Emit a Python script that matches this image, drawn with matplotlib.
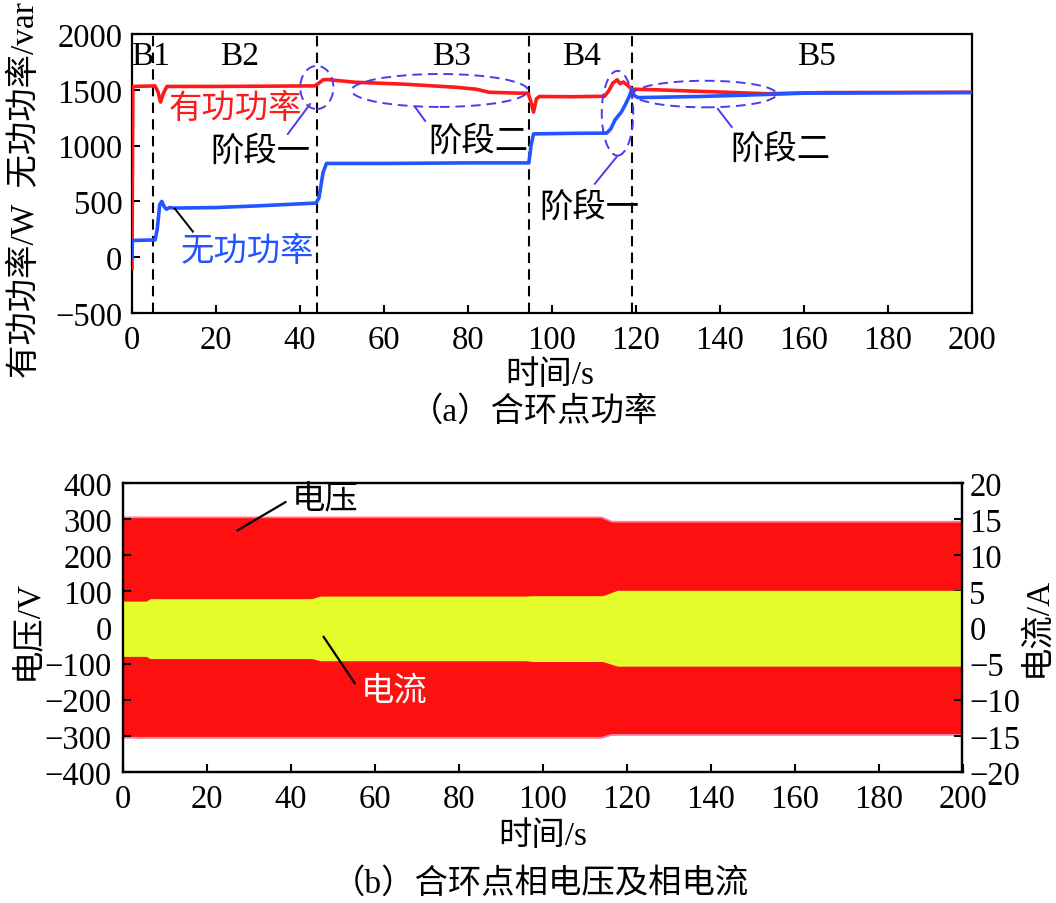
import matplotlib
matplotlib.use("Agg")
import matplotlib.pyplot as plt
from matplotlib.patches import Ellipse

plt.rcParams['font.family'] = ['Liberation Serif', 'Noto Sans CJK SC', 'DejaVu Sans']
plt.rcParams['axes.unicode_minus'] = True

# ---------------- data: panel (a) ----------------
p_time = [0, 0.2, 5.5, 6.2, 6.8, 7.5, 8.3, 20, 43.5, 44.5, 45.5, 46.5, 53, 65, 77, 82, 85,
          92, 94.3, 95.0, 95.6, 96.3, 97, 105, 112.5, 113.5, 114.5, 115.5, 116.2, 117, 118,
          119, 125, 131.5, 140, 151, 165, 200]
p_active = [-100, 1530, 1535, 1480, 1390, 1470, 1530, 1530, 1535, 1560, 1590, 1592, 1568, 1550,
            1523, 1505, 1478, 1470, 1470, 1390, 1300, 1420, 1440, 1438, 1442, 1490, 1560, 1590,
            1555, 1570, 1540, 1506, 1500, 1491, 1480, 1465, 1475, 1478]

q_time = [0, 0.1, 5.5, 6.0, 6.6, 7.1, 7.7, 8.2, 9, 10, 20, 30, 43.8, 44.5, 45.5, 46.3, 60, 80,
          94.5, 95.0, 95.6, 105, 113, 114, 115, 116.5, 117.5, 118.5, 119, 119.5, 120.5, 135,
          146, 160, 200]
q_reactive = [0, 150, 155, 250, 470, 500, 450, 430, 445, 440, 445, 460, 485, 530, 760, 840, 840,
              845, 845, 1000, 1105, 1110, 1112, 1150, 1230, 1300, 1370, 1450, 1505, 1450, 1430,
              1440, 1452, 1470, 1475]

stage_bounds = [5.1, 44, 94.5, 119]
stage_names = ['B1', 'B2', 'B3', 'B4', 'B5']
stage_label_x = [4.3, 25.5, 76, 107, 162.9]

# ---------------- data: panel (b) ----------------
v_time = [0, 114, 116.5, 200]
v_upper = [305, 305, 293, 293]
v_lower = [-305, -305, -297, -297]

i_time = [0, 5.5, 6.5, 45, 47, 96, 97.5, 114.2, 117.8, 200]
i_upper = [3.65, 3.65, 4.0, 4.0, 4.35, 4.35, 4.4, 4.4, 5.15, 5.15]
i_lower = [-4.0, -4.0, -4.3, -4.3, -4.6, -4.6, -4.7, -4.7, -5.35, -5.35]

RED = '#FF1A1A'
BLUE = '#2255FF'
ANN = '#4A3AF0'
FILL_RED = '#FF1010'
FILL_YEL = '#E4FC2C'

fs_tick = 23.5
fs_txt = 24

fig = plt.figure(figsize=(10.56, 9.04), dpi=100)

# ================= panel (a) =================
ax1 = fig.add_axes([132/1056, 1-314/904, (972-132)/1056, (314-35)/904])
ax1.plot(p_time, p_active, color=RED, lw=2.6, zorder=3)
ax1.plot(q_time, q_reactive, color=BLUE, lw=2.6, zorder=3)
ax1.set_xlim(0, 200)
ax1.set_ylim(-500, 2000)
ax1.set_xticks(range(0, 201, 20))
ax1.set_yticks(range(-500, 2001, 500))
ax1.tick_params(direction='in', length=6, width=1.5, labelsize=fs_tick, top=False, right=False)
ax1.tick_params(axis='x', pad=8)
ax1.tick_params(axis='y', pad=7)
for s in ax1.spines.values():
    s.set_linewidth(1.6)

for xb in stage_bounds:
    ax1.axvline(xb, color='black', lw=1.5, ls=(0, (5, 3)), zorder=2)
for name, xl in zip(stage_names, stage_label_x):
    ax1.text(xl, 1801, name, fontsize=fs_txt, ha='center', va='center')

# ellipses (stage annotations)
ellipses = [(44, 1521, 7.9, 387), (73.3, 1494, 42, 295), (115.6, 1290, 7.5, 759), (136.4, 1462, 34.1, 238)]
for cx, cy, w, h in ellipses:
    ax1.add_patch(Ellipse((cx, cy), w, h, fill=False, edgecolor=ANN, lw=1.4, ls=(0, (5, 3)), zorder=4))

leaders = [((42.4, 1372), (37.1, 1104)), ((67.4, 1345), (69.8, 1221)),
           ((115.4, 899), (110.2, 658)), ((139.5, 1328), (142.8, 1167))]
for (x0, y0), (x1, y1) in leaders:
    ax1.plot([x0, x1], [y0, y1], color=ANN, lw=1.4, zorder=4)

ax1.text(30.5, 952, '阶段一', fontsize=fs_txt, ha='center', va='center', zorder=5)
ax1.text(82.4, 1042, '阶段二', fontsize=fs_txt, ha='center', va='center', zorder=5)
ax1.text(109, 453, '阶段一', fontsize=fs_txt, ha='center', va='center', zorder=5)
ax1.text(154.3, 970, '阶段二', fontsize=fs_txt, ha='center', va='center', zorder=5)
ax1.text(24.5, 1336, '有功功率', fontsize=fs_txt, color=RED, ha='center', va='center', zorder=5)
ax1.text(27.6, 51, '无功功率', fontsize=fs_txt, color=BLUE, ha='center', va='center', zorder=5)
ax1.plot([10.2, 14.5], [435, 229], color='black', lw=1.4, zorder=4)

fig.text(25/1056, 1-190/904, '有功功率/W  无功功率/var', rotation=90, fontsize=fs_txt,
         ha='center', va='center')
fig.text(550/1056, 1-376/904, '时间/s', fontsize=fs_txt, ha='center', va='center')
fig.text(534/1056, 1-412/904, '（a）合环点功率', fontsize=fs_txt, ha='center', va='center')

# ================= panel (b) =================
ax2 = fig.add_axes([123/1056, 1-773/904, (962.5-123)/1056, (773-484)/904])
ax2.fill_between(v_time, v_lower, v_upper, color=FILL_RED, lw=0, zorder=1)
ax2.plot(v_time, v_upper, color='#FF7AA0', lw=1.2, zorder=1.5)
ax2.plot(v_time, v_lower, color='#FF7AA0', lw=1.2, zorder=1.5)
ax2.set_xlim(0, 200)
ax2.set_ylim(-400, 400)
ax2.set_xticks(range(0, 201, 20))
ax2.set_yticks(range(-400, 401, 100))
ax2.tick_params(direction='in', length=6, width=1.5, labelsize=fs_tick, top=False, right=False)
ax2.tick_params(axis='x', pad=8)
ax2.tick_params(axis='y', pad=8)

ax3 = ax2.twinx()
ax3.fill_between(i_time, i_lower, i_upper, color=FILL_YEL, lw=0, zorder=2)
ax3.set_ylim(-20, 20)
ax3.set_yticks(range(-20, 21, 5))
ax3.tick_params(direction='in', length=6, width=1.5, labelsize=fs_tick, pad=5)
for a in (ax2, ax3):
    for s in a.spines.values():
        s.set_linewidth(1.6)

ax3.text(48.2 - 0.0, 17.8, '电压', fontsize=fs_txt, ha='center', va='center')
ax3.plot([27.3, 38.7], [13.45, 17.35], color='black', lw=1.6)
ax3.text(64.6, -8.75, '电流', fontsize=fs_txt, color='white', ha='center', va='center')
ax3.plot([47.8, 55.2], [-1.3, -7.7], color='black', lw=1.6)

fig.text(28/1056, 1-630/904, '电压/V', rotation=90, fontsize=fs_txt, ha='center', va='center')
fig.text(1037/1056, 1-627/904, '电流/A', rotation=90, fontsize=fs_txt, ha='center', va='center')
fig.text(543/1056, 1-837/904, '时间/s', fontsize=fs_txt, ha='center', va='center')
fig.text(540/1056, 1-884/904, '（b）合环点相电压及相电流', fontsize=fs_txt, ha='center', va='center')

fig.savefig('out.png', dpi=100)
